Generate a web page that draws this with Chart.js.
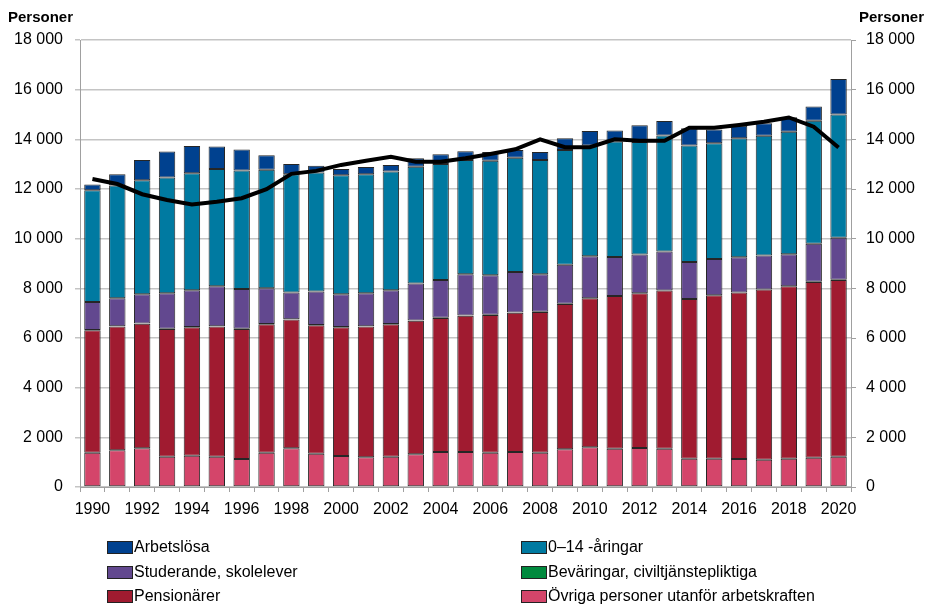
<!DOCTYPE html>
<html lang="sv">
<head>
<meta charset="utf-8">
<title>Personer utanför arbetskraften</title>
<script src="https://cdn.jsdelivr.net/npm/chart.js@4/dist/chart.umd.min.js"></script>
<style>
  html, body { margin: 0; padding: 0; background: #fff; }
  #wrap { position: relative; width: 925px; height: 605px; font-family: "Liberation Sans", Arial, sans-serif; }
  #chart { position: absolute; left: 0; top: 0; }
  .unit { position: absolute; top: 8px; font-size: 15px; font-weight: bold; color: #000; }
  .legend-item { position: absolute; font-size: 16px; color: #000; display: flex; align-items: center; white-space: nowrap; }
  .legend-item span.sw { display: inline-block; width: 24px; height: 11px; border: 1px solid #222; margin-right: 1px; }
</style>
</head>
<body>
<div id="wrap">
  <canvas id="chart" width="925" height="605"></canvas>
  <div class="unit" style="left:8px">Personer</div>
  <div class="unit" style="right:1px">Personer</div>
  <div id="legend"></div>
</div>
<script>
/* chart data (persons) */
const years = [
  "1990","1991","1992","1993","1994","1995","1996","1997","1998","1999",
  "2000","2001","2002","2003","2004","2005","2006","2007","2008","2009",
  "2010","2011","2012","2013","2014","2015","2016","2017","2018","2019","2020"
];
const ovriga = [
  1380,1480,1560,1220,1260,1220,1130,1380,1560,1340,
  1250,1200,1220,1320,1410,1410,1380,1410,1380,1520,
  1600,1540,1570,1540,1140,1140,1130,1100,1140,1180,1220
];
const pensionarer = [
  4930,4980,5010,5140,5170,5240,5230,5170,5190,5170,
  5180,5260,5330,5370,5400,5490,5550,5610,5670,5850,
  6000,6150,6230,6370,6430,6580,6700,6850,6940,7080,7120
];
const bevaringar = [
  10,10,10,10,10,10,10,10,10,10,
  10,10,10,10,10,10,10,10,10,10,
  0,0,0,0,0,0,0,0,5,5,5
];
const studerande = [
  1130,1130,1180,1430,1480,1610,1600,1440,1070,1350,
  1320,1330,1360,1490,1520,1660,1590,1630,1510,1570,
  1690,1570,1560,1570,1490,1460,1420,1370,1285,1535,1695
];
const barn = [
  4500,4540,4590,4660,4710,4730,4780,4780,4760,4790,
  4790,4790,4780,4710,4670,4600,4610,4600,4600,4620,
  4460,4650,4530,4670,4690,4660,4790,4820,4940,4950,4960
];
const arbetslosa = [
  230,450,820,1050,1100,900,840,580,420,280,
  260,300,270,340,390,350,350,310,320,470,
  590,450,680,590,700,560,510,510,580,570,1430
];
const linje = [
  12400,12200,11790,11560,11380,11490,11630,11990,12610,12730,
  12970,13140,13300,13100,13100,13240,13410,13600,14000,13680,
  13680,14000,13940,13940,14470,14470,14580,14710,14880,14510,13670
];
const yTicks = [0, 2000, 4000, 6000, 8000, 10000, 12000, 14000, 16000, 18000];

const COLORS = {
  arbetslosa: "#00418f",
  barn: "#007aa1",
  studerande: "#62488f",
  bevaringar: "#008a3e",
  pensionarer: "#a01b30",
  ovriga: "#d4456a",
};

const FONT = { family: "'Liberation Sans', Arial, sans-serif", size: 16 };

function fmt(v) {
  return String(v).replace(/\B(?=(\d{3})+(?!\d))/g, " ");
}

function barSet(label, data, color) {
  return {
    type: "bar",
    label,
    data,
    backgroundColor: color,
    borderColor: "#262626",
    borderWidth: 1,
    borderSkipped: false,
    barPercentage: 0.66,
    categoryPercentage: 1,
    order: 1,
  };
}

const ctx = document.getElementById("chart");
new Chart(ctx, {
  data: {
    labels: years,
    datasets: [
      barSet("Övriga personer utanför arbetskraften", ovriga, COLORS.ovriga),
      barSet("Pensionärer", pensionarer, COLORS.pensionarer),
      barSet("Beväringar, civiltjänstepliktiga", bevaringar, COLORS.bevaringar),
      barSet("Studerande, skolelever", studerande, COLORS.studerande),
      barSet("0–14 -åringar", barn, COLORS.barn),
      barSet("Arbetslösa", arbetslosa, COLORS.arbetslosa),
      {
        type: "line",
        label: "linje",
        data: linje,
        borderColor: "#000",
        borderWidth: 4,
        pointRadius: 0,
        tension: 0,
        fill: false,
        order: 0,
      },
    ],
  },
  options: {
    responsive: false,
    animation: false,
    layout: { padding: { top: 40, bottom: 78, left: 0, right: 0 } },
    plugins: { legend: { display: false }, tooltip: { enabled: false } },
    scales: {
      x: {
        stacked: true,
        grid: { drawOnChartArea: false, tickLength: 5, color: "#a0a0a0" },
        border: { color: "#a0a0a0" },
        ticks: {
          autoSkip: false,
          maxRotation: 0,
          padding: 8,
          color: "#000",
          font: FONT,
          callback: (v, i) => (i % 2 === 0 ? years[i] : ""),
        },
        afterFit: (s) => { s.height = 40; },
      },
      y: {
        stacked: true,
        position: "left",
        min: 0,
        max: 18000,
        afterBuildTicks: (s) => { s.ticks = yTicks.map((v) => ({ value: v })); },
        grid: { color: "#c4c4c4", lineWidth: 1.5, tickLength: 5 },
        border: { color: "#a0a0a0" },
        ticks: { padding: 12, color: "#000", font: FONT, callback: (v) => fmt(v) },
        afterFit: (s) => { s.width = 80; },
      },
      y2: {
        position: "right",
        min: 0,
        max: 18000,
        afterBuildTicks: (s) => { s.ticks = yTicks.map((v) => ({ value: v })); },
        grid: { drawOnChartArea: false, tickLength: 5, color: "#a0a0a0" },
        border: { color: "#a0a0a0" },
        ticks: { padding: 10, color: "#000", font: FONT, callback: (v) => fmt(v) },
        afterFit: (s) => { s.width = 74; },
      },
    },
  },
});

/* legend, two columns like the original */
const legendItems = [
  ["Arbetslösa", COLORS.arbetslosa, 107, 538],
  ["0–14 -åringar", COLORS.barn, 521, 538],
  ["Studerande, skolelever", COLORS.studerande, 107, 563],
  ["Beväringar, civiltjänstepliktiga", COLORS.bevaringar, 521, 563],
  ["Pensionärer", COLORS.pensionarer, 107, 587],
  ["Övriga personer utanför arbetskraften", COLORS.ovriga, 521, 587],
];
const legendEl = document.getElementById("legend");
legendItems.forEach(([text, color, x, y]) => {
  const d = document.createElement("div");
  d.className = "legend-item";
  d.style.left = x + "px";
  d.style.top = y + "px";
  d.innerHTML = `<span class="sw" style="background:${color}"></span>${text}`;
  legendEl.appendChild(d);
});
</script>
</body>
</html>
